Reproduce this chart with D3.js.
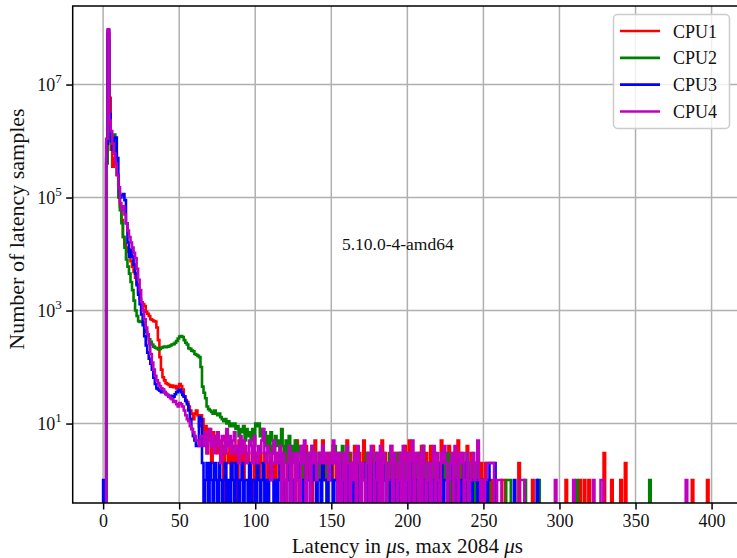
<!DOCTYPE html>
<html>
<head>
<meta charset="utf-8">
<script src="https://cdn.jsdelivr.net/npm/d3@7"></script>
<style>
  body { margin: 0; background: #fff; }
  svg { display: block; font-family: "Liberation Serif", "DejaVu Serif", serif; }
</style>
</head>
<body>
<div id="chart"></div>
<script>
// series labels and colours
const seriesNames = ["CPU1", "CPU2", "CPU3", "CPU4"];
const seriesColors = ["#ff0000", "#008000", "#0000ff", "#bf00bf"];
const xTicks = [0, 50, 100, 150, 200, 250, 300, 350, 400];
const yTickExps = [1, 3, 5, 7];
const kernelLabel = "5.10.0-4-amd64";

// counts per 1 us bin, bins 0..64
const cpu1Head = [0, 0, 5e5, 8e7, 5.8e6, 7e5, 3.5e5, 5e5, 4e5, 2.5e5,
  1.2e5, 7e4, 4e4, 2e4, 1.5e4, 1.3e4, 1.1e4, 9e3, 7.5e3, 6e3,
  4.8e3, 3.8e3, 3e3, 2.1e3, 1.6e3, 1.35e3, 1.3e3, 1.2e3, 950, 880,
  800, 700, 680, 650, 640, 500, 300, 150, 90, 66,
  58, 52, 50, 48, 45, 47, 44, 46, 42, 45,
  50, 46, 40, 30, 26, 24, 20, 17, 15, 12,
  15, 17, 14, 9, 14];
const cpu2Head = [0, 0, 4e5, 6e7, 3e6, 9e5, 8e5, 1.3e6, 6e5, 2.5e5,
  1e5, 6e4, 3.5e4, 2e4, 1.3e4, 8e3, 6e3, 4.5e3, 3.2e3, 2.3e3,
  1.5e3, 1e3, 800, 650, 630, 630, 620, 560, 420, 350,
  310, 280, 250, 230, 220, 215, 205, 210, 220, 225,
  230, 225, 230, 235, 240, 250, 255, 270, 290, 320,
  345, 355, 340, 300, 270, 250, 215, 210, 195, 190,
  170, 165, 158, 150, 100];
const cpu3Head = [1, 0, 9e5, 9e7, 3e6, 1e6, 7e5, 1.1e6, 1.15e6, 5e5,
  1.5e5, 1e5, 1.1e5, 1.15e5, 9e4, 3.5e4, 1.6e4, 9e3, 1.2e4, 9e3,
  6.5e3, 4.5e3, 2.8e3, 1.9e3, 1.3e3, 850, 550, 350, 240, 180,
  140, 115, 90, 65, 50, 42, 40, 38, 36, 40,
  36, 33, 32, 30, 31, 28, 30, 33, 36, 38,
  40, 36, 32, 30, 25, 22, 17, 12, 8, 6,
  5, 4, 4, 13, 12];
const cpu4Head = [0, 0, 1.1e6, 9.5e7, 2.3e6, 1.5e6, 9e5, 6e5, 4e5, 2.5e5,
  1.5e5, 8e4, 6e4, 7e4, 5e4, 3.5e4, 2.6e4, 2e4, 1.6e4, 1.3e4,
  1.05e4, 8.5e3, 5.5e3, 3.5e3, 2.3e3, 1.4e3, 1e3, 700, 500, 380,
  260, 170, 120, 90, 70, 58, 52, 46, 42, 40,
  36, 34, 32, 30, 28, 27, 24, 25, 22, 20,
  23, 22, 20, 17, 14, 12, 11, 9, 8, 7,
  6, 5, 5, 4, 6];

// noisy tail, one value per bin starting at bin 65
const cpu1Tail = [12, 6, 9, 3, 8, 5, 2, 7, 4, 6,
  3, 5, 2, 4, 0, 6, 3, 2, 5, 1,
  4, 2, 3, 0, 5, 2, 3, 1, 4, 2,
  3, 1, 2, 4, 0, 3, 2, 1, 3, 2,
  1, 3, 3, 0, 2, 4, 1, 2, 0, 3,
  2, 1, 3, 2, 0, 1, 4, 2, 1, 3,
  2, 0, 5, 2, 1, 3, 2, 1, 4, 2,
  1, 3, 0, 2, 5, 1, 2, 3, 1, 5,
  2, 1, 0, 3, 2, 1, 4, 2, 1, 3,
  2, 0, 3, 1, 2, 5, 1, 3, 2, 1,
  4, 2, 0, 3, 1, 2, 5, 2, 1, 3,
  2, 1, 4, 0, 2, 3, 1, 2, 5, 1,
  3, 2, 0, 1, 4, 2, 1, 3, 2, 0,
  3, 1, 2, 4, 1, 2, 5, 3, 1, 2,
  0, 3, 2, 1, 4, 2, 1, 3, 2, 0,
  4, 1, 2, 3, 1, 0, 2, 5, 1, 3,
  2, 1, 4, 2, 0, 3, 1, 2, 5, 1,
  3, 0, 2, 1, 4, 2, 1, 3, 0, 2,
  1, 3, 0, 2, 1, 0, 2, 1, 0, 1,
  0, 1, 0, 0, 0, 0, 0, 1, 1, 0];
const cpu2Tail = [45, 35, 28, 20, 18, 17, 16, 15, 17, 15,
  14, 15, 13, 12, 11, 12, 10, 11, 9, 10,
  9, 10, 8, 9, 6, 8, 7, 9, 5, 8,
  6, 7, 5, 8, 4, 10, 9, 10, 6, 8,
  5, 7, 4, 6, 3, 7, 5, 3, 6, 4,
  5, 3, 8, 4, 2, 5, 3, 6, 2, 4,
  3, 5, 2, 4, 3, 1, 4, 2, 3, 2,
  3, 1, 4, 2, 3, 2, 1, 3, 2, 1,
  3, 2, 0, 2, 1, 3, 4, 4, 2, 1,
  2, 3, 4, 1, 2, 0, 3, 1, 2, 1,
  2, 1, 3, 0, 2, 1, 2, 1, 3, 1,
  0, 2, 1, 3, 1, 2, 0, 1, 2, 1,
  2, 1, 0, 3, 1, 2, 1, 0, 2, 3,
  1, 2, 0, 1, 2, 3, 1, 0, 2, 1,
  2, 0, 1, 3, 2, 4, 1, 2, 0, 1,
  2, 1, 3, 0, 2, 1, 2, 0, 1, 2,
  1, 3, 0, 1, 2, 1, 0, 2, 1, 1,
  0, 2, 1, 0, 3, 1, 2, 0, 1, 0,
  1, 2, 0, 1, 0, 1, 0, 0, 1, 0];
const cpu3Tail = [2, 0, 1, 2, 0, 2, 1, 0, 2, 1,
  0, 2, 1, 0, 1, 2, 0, 1, 0, 2,
  1, 0, 2, 1, 0, 1, 2, 0, 1, 1,
  0, 2, 0, 1, 1, 0, 2, 1, 0, 1,
  2, 0, 1, 0, 1, 2, 1, 0, 1, 0,
  1, 2, 0, 1, 1, 0, 1, 2, 0, 1,
  0, 1, 1, 2, 0, 1, 0, 1, 2, 1,
  1, 0, 1, 2, 1, 0, 1, 1, 0, 2,
  1, 1, 0, 1, 2, 1, 0, 1, 1, 0,
  2, 1, 0, 1, 1, 0, 2, 1, 1, 0,
  1, 2, 0, 1, 0, 1, 1, 2, 0, 1,
  1, 0, 1, 2, 1, 0, 1, 1, 0, 2,
  1, 0, 1, 1, 0, 2, 1, 0, 1, 1,
  0, 2, 1, 1, 0, 1, 2, 0, 1, 0,
  1, 1, 0, 2, 1, 0, 1, 1, 0, 1,
  2, 1, 0, 1, 1, 0, 1, 2, 0, 1,
  1, 0, 1, 1, 2, 0, 1, 0, 1, 1,
  0, 1, 2, 1, 0, 1, 1, 0, 1, 2,
  1, 0, 1, 1, 0, 1, 1, 0, 1, 2,
  2, 2, 2, 0];
const cpu4Tail = [6, 4, 7, 3, 5, 8, 4, 6, 3, 5,
  7, 4, 2, 6, 5, 3, 8, 4, 6, 3,
  5, 7, 3, 4, 2, 6, 3, 5, 4, 2,
  3, 5, 4, 2, 6, 3, 2, 4, 3, 5,
  8, 3, 2, 4, 3, 1, 3, 5, 2, 3,
  2, 4, 0, 3, 1, 0, 2, 4, 0, 2,
  3, 0, 3, 1, 0, 4, 2, 5, 0, 2,
  3, 0, 4, 2, 3, 1, 2, 3, 2, 4,
  2, 3, 2, 1, 3, 2, 5, 2, 3, 0,
  3, 0, 1, 3, 0, 4, 2, 0, 2, 1,
  3, 0, 4, 2, 0, 2, 1, 0, 2, 3,
  0, 4, 3, 0, 1, 3, 0, 4, 0, 3,
  2, 0, 1, 2, 4, 0, 3, 2, 0, 1,
  3, 0, 4, 0, 1, 3, 0, 3, 5, 0,
  3, 2, 0, 3, 0, 4, 2, 0, 1, 2,
  0, 2, 4, 0, 3, 1, 0, 3, 2, 4,
  2, 0, 1, 2, 3, 0, 4, 2, 0, 3,
  2, 3, 0, 1, 3, 0, 1, 2, 3, 1,
  2, 5, 1, 0, 1, 0, 1, 2, 2, 2,
  2, 2];

// isolated far-tail samples as [bin, count]
const cpu1Sparse = [[263, 1], [273, 2], [282, 1], [304, 1], [313, 1], [316, 1], [319, 1],
  [329, 3], [334, 1], [340, 1], [343, 2], [387, 1], [397, 1]];
const cpu2Sparse = [[265, 1], [266, 1], [267, 1], [277, 1], [286, 1], [311, 1], [359, 1]];
const cpu3Sparse = [[270, 1], [285, 1]];
const cpu4Sparse = [[259, 1], [260, 1], [261, 1], [274, 1], [275, 1], [276, 1], [297, 1],
  [309, 1], [322, 1], [327, 1], [328, 1], [383, 1]];

const tailStart = 65;
const nBins = 430;

function buildCounts(head, tail, sparse) {
  const c = new Array(nBins).fill(0);
  head.forEach((v, i) => c[i] = v);
  tail.forEach((v, i) => c[tailStart + i] = v);
  sparse.forEach(([b, v]) => c[b] = v);
  return c;
}

const series = [
  buildCounts(cpu1Head, cpu1Tail, cpu1Sparse),
  buildCounts(cpu2Head, cpu2Tail, cpu2Sparse),
  buildCounts(cpu3Head, cpu3Tail, cpu3Sparse),
  buildCounts(cpu4Head, cpu4Tail, cpu4Sparse)
];

const W = 737, H = 558;
const plot = { left: 72.7, top: 6, right: 742, bottom: 503 };

const svg = d3.select("#chart").append("svg")
  .attr("width", W).attr("height", H);

const x = d3.scaleLinear().domain([-20, 420]).range([plot.left, plot.right]);
const y = d3.scaleLog().domain([Math.pow(10, -0.406), Math.pow(10, 8.39)]).range([plot.bottom, plot.top]);

svg.append("defs").append("clipPath").attr("id", "plotclip")
  .append("rect")
  .attr("x", plot.left).attr("y", plot.top)
  .attr("width", plot.right - plot.left).attr("height", plot.bottom - plot.top);

// grid
const grid = svg.append("g").attr("stroke", "#b0b0b0").attr("stroke-width", 1.5);
grid.selectAll("line.gx").data(xTicks).join("line")
  .attr("x1", d => x(d)).attr("x2", d => x(d))
  .attr("y1", plot.top).attr("y2", plot.bottom);
grid.selectAll("line.gy").data(yTickExps).join("line")
  .attr("x1", plot.left).attr("x2", plot.right)
  .attr("y1", d => y(Math.pow(10, d))).attr("y2", d => y(Math.pow(10, d)));

// step histogram outlines
const yOf = c => c > 0 ? y(c) : plot.bottom + 20;
const line = d3.line().x(d => x(d[0])).y(d => yOf(d[1]));

function stepPoints(counts) {
  const pts = [[0, 0]];
  counts.forEach((c, i) => { pts.push([i, c]); pts.push([i + 1, c]); });
  pts.push([counts.length, 0]);
  return pts;
}

const lines = svg.append("g").attr("clip-path", "url(#plotclip)");
series.forEach((counts, k) => {
  lines.append("path")
    .attr("d", line(stepPoints(counts)))
    .attr("fill", "none")
    .attr("stroke", seriesColors[k])
    .attr("stroke-width", 2.6)
    .attr("stroke-linejoin", "miter");
});

// spines
svg.append("rect")
  .attr("x", plot.left).attr("y", plot.top)
  .attr("width", plot.right - plot.left).attr("height", plot.bottom - plot.top)
  .attr("fill", "none").attr("stroke", "#000").attr("stroke-width", 1.5);

// x axis
const xAxis = svg.append("g")
  .attr("transform", `translate(0,${plot.bottom})`)
  .call(d3.axisBottom(x).tickValues(xTicks).tickSize(6.5).tickPadding(5).tickFormat(d3.format("d")));
xAxis.select(".domain").remove();
xAxis.selectAll(".tick line").attr("stroke", "#000").attr("stroke-width", 1.5);
xAxis.selectAll(".tick text")
  .attr("font-family", "Liberation Serif, serif").attr("font-size", 18).attr("fill", "#111");

// y axis with 10^n labels
const yAxis = svg.append("g")
  .attr("transform", `translate(${plot.left},0)`)
  .call(d3.axisLeft(y).tickValues(yTickExps.map(e => Math.pow(10, e))).tickSize(6.5).tickFormat(""));
yAxis.select(".domain").remove();
yAxis.selectAll(".tick line").attr("stroke", "#000").attr("stroke-width", 1.5);
yAxis.selectAll(".tick").each(function (d) {
  const t = d3.select(this).append("text")
    .attr("x", -11).attr("y", 6)
    .attr("text-anchor", "end")
    .attr("fill", "#111")
    .attr("font-family", "Liberation Serif, serif").attr("font-size", 18);
  t.append("tspan").text("10");
  t.append("tspan").attr("dy", -8).attr("font-size", 13).text(Math.round(Math.log10(d)));
});

// axis labels
svg.append("text")
  .attr("x", (plot.left + plot.right) / 2).attr("y", 553)
  .attr("text-anchor", "middle").attr("font-size", 21).attr("fill", "#111")
  .call(t => {
    t.append("tspan").text("Latency in ");
    t.append("tspan").attr("font-style", "italic").text("μ");
    t.append("tspan").text("s, max 2084 ");
    t.append("tspan").attr("font-style", "italic").text("μ");
    t.append("tspan").text("s");
  });

svg.append("text")
  .attr("transform", "translate(24,229) rotate(-90)")
  .attr("text-anchor", "middle").attr("font-size", 22).attr("fill", "#111")
  .text("Number of latency samples");

// kernel annotation
svg.append("text")
  .attr("x", x(157)).attr("y", y(1.2e4))
  .attr("font-size", 17.5).attr("fill", "#111")
  .text(kernelLabel);

// legend
const legend = svg.append("g");
legend.append("rect")
  .attr("x", 613.5).attr("y", 14.5).attr("width", 116).attr("height", 114)
  .attr("rx", 4).attr("fill", "#fff").attr("fill-opacity", 0.8)
  .attr("stroke", "#cccccc").attr("stroke-width", 1.5);
const rowY = d3.scaleLinear().domain([0, 3]).range([31, 111.5]);
seriesNames.forEach((name, k) => {
  legend.append("line")
    .attr("x1", 620).attr("x2", 660)
    .attr("y1", rowY(k)).attr("y2", rowY(k))
    .attr("stroke", seriesColors[k]).attr("stroke-width", 2.6);
  legend.append("text")
    .attr("x", 673).attr("y", rowY(k) + 6.5)
    .attr("font-size", 18).attr("fill", "#111")
    .text(name);
});
</script>
</body>
</html>
